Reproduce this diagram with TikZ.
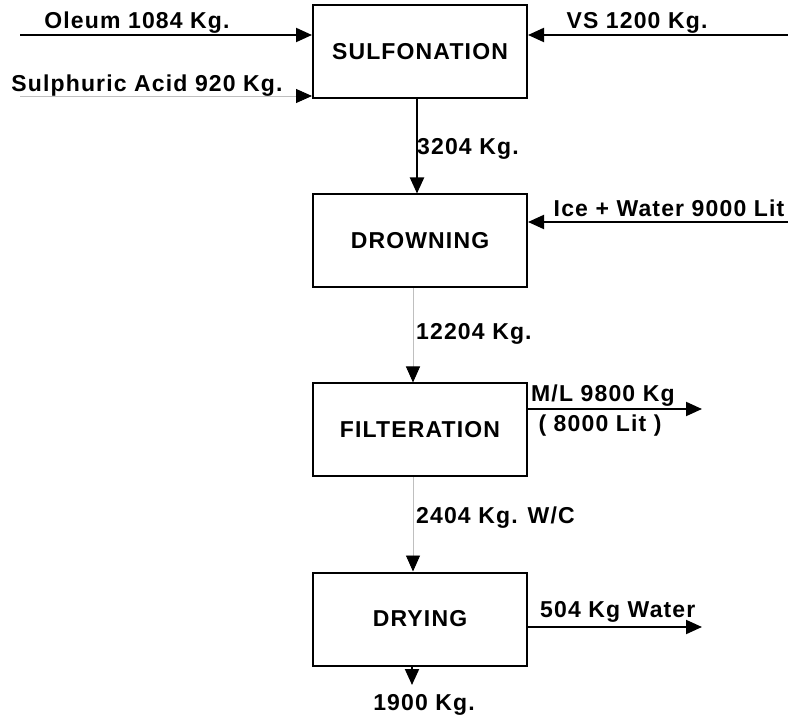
\documentclass[tikz,border=0pt]{standalone}
\usepackage{fontspec}
\setmainfont{Liberation Sans}[LetterSpace=5]
\usetikzlibrary{arrows.meta,positioning}

\begin{document}
\begin{tikzpicture}[x=1pt, y=-1pt, node distance=94pt,
  font=\fontsize{23}{27}\selectfont\bfseries,
  box/.style={draw, line width=2pt, minimum width=214pt, minimum height=93pt, align=center},
  flow/.style={-{Triangle[length=16pt,width=14pt]}, line width=2pt},
  thinflow/.style={-{Triangle[length=16pt,width=14pt,color=black]}, line width=0.9pt, black!25},
  lbl/.style={inner sep=0pt, anchor=base}]
\useasboundingbox (0,0) rectangle (788,719);

% process blocks
\node[box] (sulf) at (420,52) {SULFONATION};
\node[box, below=of sulf] (drown) {DROWNING};
\node[box, below=of drown] (filt) {FILTERATION};
\node[box, below=of filt] (dry) {DRYING};

% free ends of feeds and outlets
\coordinate (oleumin) at (20,35);
\coordinate (acidin) at (20,96);
\coordinate (vsin) at (788,35);
\coordinate (icein) at (788,222);
\coordinate (mlout) at (702,409);
\coordinate (waterout) at (702,627);
\coordinate (prodout) at (412,685);

\draw[flow] (oleumin) -- (oleumin -| sulf.west);
\draw[thinflow] (acidin) -- (acidin -| sulf.west);
\draw[flow] (vsin) -- (vsin -| sulf.east);
\draw[flow] ([xshift=-3pt]sulf.south) -- ([xshift=-3pt]drown.north);
\draw[flow] (icein) -- (icein -| drown.east);
\draw[thinflow] ([xshift=-7pt]drown.south) -- ([xshift=-7pt]filt.north);
\draw[flow] (mlout -| filt.east) -- (mlout);
\draw[thinflow] ([xshift=-7pt]filt.south) -- ([xshift=-7pt]dry.north);
\draw[flow] (waterout -| dry.east) -- (waterout);
\draw[flow] (dry.south -| prodout) -- (prodout);

% stream labels
\node[lbl] (oleumlbl) at (137,29) {Oleum 1084 Kg.};
\node[lbl] (acidlbl) at (147,92) {Sulphuric Acid 920 Kg.};
\node[lbl] (vslbl) at (637,29) {VS 1200 Kg.};
\node[lbl, anchor=base west] (sulflbl) at (417,155) {3204 Kg.};
\node[lbl] (icelbl) at (669,217) {Ice + Water 9000 Lit};
\node[lbl, anchor=base west] (drownlbl) at (416,340) {12204 Kg.};
\node[lbl, anchor=base west] (mllbl) at (531,402) {M/L 9800 Kg};
\node[lbl] (litlbl) at (600,432) {( 8000 Lit )};
\node[lbl, anchor=base west] (cakelbl) at (416,523) {2404 Kg. W/C};
\node[lbl, anchor=base west] (waterlbl) at (540,617) {504 Kg Water};
\node[lbl] (prodlbl) at (424,710) {1900 Kg.};
\end{tikzpicture}
\end{document}
